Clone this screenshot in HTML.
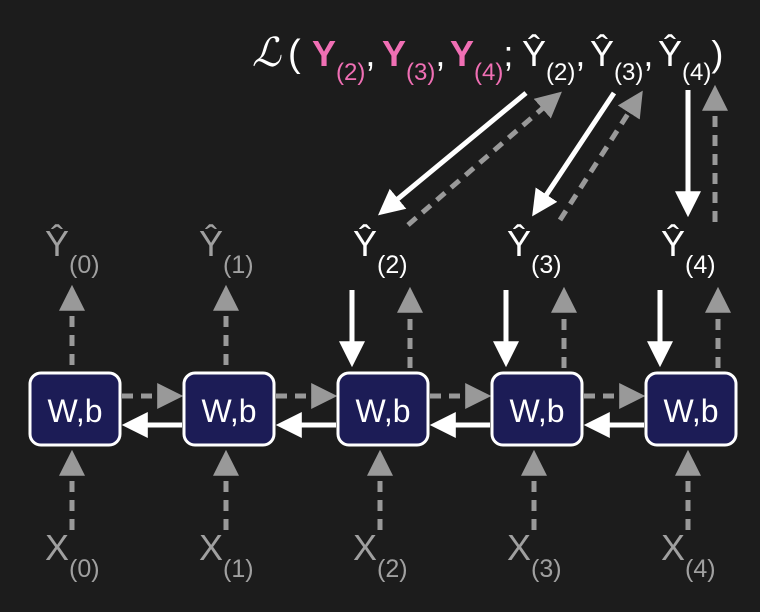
<!DOCTYPE html>
<html><head><meta charset="utf-8"><style>
html,body{margin:0;padding:0;background:#1c1c1c;}
svg{display:block;font-family:"Liberation Sans","DejaVu Sans",sans-serif;}
</style></head><body>
<svg width="760" height="612" viewBox="0 0 760 612">
<defs>
<marker id="wh" markerWidth="26" markerHeight="26" refX="8" refY="5" orient="auto" markerUnits="userSpaceOnUse" viewBox="0 0 10 10"><path d="M0,0 L10,5 L0,10 z" fill="#fff"/></marker>
<marker id="gh" markerWidth="26" markerHeight="26" refX="8" refY="5" orient="auto" markerUnits="userSpaceOnUse" viewBox="0 0 10 10"><path d="M0,0 L10,5 L0,10 z" fill="#999"/></marker>
</defs>
<rect width="760" height="612" fill="#1c1c1c"/>
<g id="g"></g>
<text x="252" y="66" font-family="'Liberation Serif',serif" font-style="italic" font-size="40" fill="#fff">ℒ</text>
<text x="288" y="66" font-size="38" fill="#fff">(</text>
<g font-size="36">
<text x="312" y="66" fill="#f06fb4" font-weight="bold">Y<tspan font-size="24" dy="14" font-weight="normal">(2)</tspan><tspan dy="-14" fill="#fff" font-weight="normal">,</tspan></text>
<text x="382" y="66" fill="#f06fb4" font-weight="bold">Y<tspan font-size="24" dy="14" font-weight="normal">(3)</tspan><tspan dy="-14" fill="#fff" font-weight="normal">,</tspan></text>
<text x="450" y="66" fill="#f06fb4" font-weight="bold">Y<tspan font-size="24" dy="14" font-weight="normal">(4)</tspan><tspan dy="-14" fill="#fff" font-weight="normal">;</tspan></text>
<text x="522" y="66" fill="#fff">Ŷ<tspan font-size="24" dy="14">(2)</tspan><tspan dy="-14">,</tspan></text>
<text x="590" y="66" fill="#fff">Ŷ<tspan font-size="24" dy="14">(3)</tspan><tspan dy="-14">,</tspan></text>
<text x="658" y="66" fill="#fff">Ŷ<tspan font-size="24" dy="14">(4)</tspan><tspan dy="-14">)</tspan></text>
</g>
</svg>
<script>
const steps=[0,1,2,3,4];
const lossSteps=[2,3,4];
const cx=i=>75+154*i;
const g=document.getElementById('g');
const NS='http://www.w3.org/2000/svg';
function mk(t,a){const e=document.createElementNS(NS,t);for(const k in a)e.setAttribute(k,a[k]);g.appendChild(e);return e;}
function line(x1,y1,x2,y2,white,name){
  const e=mk('line',{x1,y1,x2,y2,stroke:white?'#fff':'#999','stroke-width':5,'stroke-dasharray':white?'none':'11 8'});
  
  
  e.setAttribute('marker-end', white?'url(#wh)':'url(#gh)');
  return e;
}
steps.forEach(i=>{
  const x=cx(i);
  line(x-3,530,x-3,455,false,'input-arrow-'+i);
  if(i<4){line(x+47,396,x+103,396,false,'forward-arrow-'+i);
          line(x+107,425,x+52,425,true,'backward-arrow-'+i);}
  if(lossSteps.indexOf(i)<0){
    line(x-3,365,x-3,290,false,'output-arrow-'+i);
  }else{
    line(x-31,290,x-31,362,true,'grad-down-arrow-'+i);
    line(x+27,368,x+27,292,false,'output-up-arrow-'+i);
  }
  const r=mk('rect',{x:x-45,y:373,width:90,height:72,rx:11,fill:'#1c1c56',stroke:'#fff','stroke-width':3});
  
  
  const t=mk('text',{x:x,y:422,'text-anchor':'middle','font-size':32,fill:'#fff'});t.textContent='W,b';
  
  
  const col=lossSteps.indexOf(i)<0?'#a0a0a0':'#fff';
  const y=mk('text',{x:x-30,y:256,'font-size':36,fill:col});
  y.innerHTML='Ŷ<tspan font-size="25" dy="17">('+i+')</tspan>';
  
  
  const xl=mk('text',{x:x-30,y:560,'font-size':36,fill:'#a0a0a0'});
  xl.innerHTML='X<tspan font-size="25" dy="17">('+i+')</tspan>';
  
  
});
line(526,93,382,212,true,'loss-grad-arrow-2');
line(408,225,558,95,false,'loss-input-arrow-2');
line(614,93,535,212,true,'loss-grad-arrow-3');
line(560,220,640,95,false,'loss-input-arrow-3');
line(688,90,688,212,true,'loss-grad-arrow-4');
line(715,222,715,90,false,'loss-input-arrow-4');
</script>
</body></html>
